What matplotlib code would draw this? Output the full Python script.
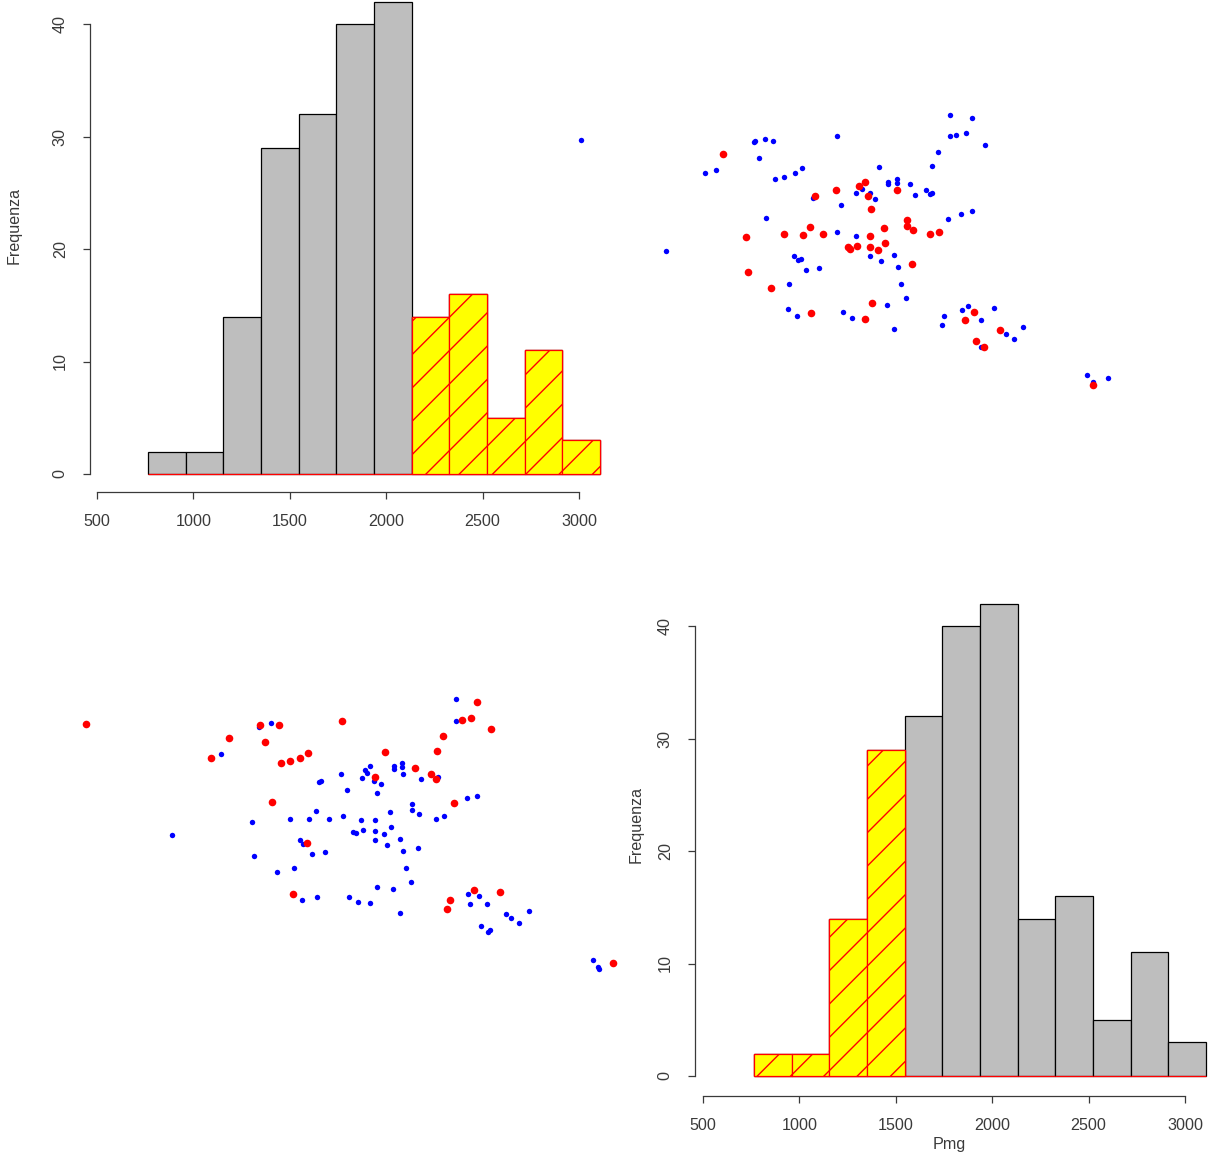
import numpy as np
import matplotlib
matplotlib.use("Agg")
import matplotlib.pyplot as plt

plt.rcParams['font.family'] = ['Liberation Sans', 'DejaVu Sans']
plt.rcParams['hatch.linewidth'] = 0.5

# ---- histogram data (Pmg) ----
bin_edges = [765, 960, 1156, 1351, 1547, 1742, 1937, 2133, 2328, 2524, 2719, 2914, 3110]
counts = [2, 2, 14, 29, 32, 40, 42, 14, 16, 5, 11, 3]
high_cut = 2133   # top-left: bins >= this are highlighted
low_cut = 1547    # bottom-right: bins < this are highlighted

# ---- scatter data (screen units) ----
tr_blue_x = [581, 666, 705, 716, 754, 755, 765, 773, 759, 775, 784, 795, 802, 837, 813, 841, 856, 862, 870, 875,
             766, 837, 856, 794, 798, 801, 806, 819, 789, 870, 881, 788, 797, 843, 852, 887,
             950, 972, 950, 956, 966, 985, 938, 932, 879, 888, 888, 897, 897, 910, 915, 926, 930, 932, 948, 961,
             972, 894, 898, 901, 906, 894, 944, 942, 962, 968, 981, 994, 1023, 1006, 1014, 981, 1087, 1108, 1093]
tr_blue_y = [140, 251, 173, 170, 142, 141, 139, 141, 158, 179, 177, 173, 168, 136, 198, 205, 193, 189, 193, 199,
             218, 232, 236, 256, 260, 259, 270, 268, 284, 256, 261, 309, 316, 312, 318, 305,
             115, 118, 136, 135, 133, 145, 152, 166, 167, 182, 184, 179, 183, 184, 195, 190, 194, 193, 219, 214,
             211, 255, 267, 284, 298, 329, 316, 325, 310, 306, 320, 308, 327, 334, 339, 347, 375, 378, 382]
tr_red_x = [723, 746, 748, 771, 784, 803, 810, 823, 815, 836, 859, 865, 868, 871, 848, 850, 857, 870, 870, 878,
            884, 885, 811, 872, 865, 897, 907, 907, 913, 930, 939, 912, 974, 965, 1000, 976, 984, 1093]
tr_red_y = [154, 237, 272, 288, 234, 235, 227, 234, 196, 190, 186, 182, 196, 209, 247, 249, 246, 236, 247, 250,
            228, 243, 313, 303, 319, 190, 220, 226, 230, 234, 232, 264, 312, 320, 330, 341, 347, 385]

bl_blue_x = [221, 172, 252, 254, 259, 271, 319, 321, 341, 347, 362, 365, 367, 370, 374, 381, 377, 394, 394, 402,
             402, 403, 421, 412, 412, 419, 436, 390, 316, 290, 309, 329, 343, 361, 375, 353, 356, 363, 375, 384,
             391, 300, 303, 312, 325, 375, 387, 400, 403, 418, 294, 277, 406, 411, 377, 393, 302, 317, 349, 358,
             370, 400, 438, 456, 456, 467, 477, 444, 468, 479, 470, 487, 506, 511, 529, 519, 481, 488, 490, 593,
             598, 599]
bl_blue_y = [754, 835, 822, 856, 727, 723, 782, 781, 774, 790, 778, 770, 773, 766, 781, 784, 793, 766, 769, 763,
             767, 774, 779, 804, 810, 814, 819, 812, 811, 819, 819, 819, 816, 820, 820, 832, 833, 830, 831, 834,
             827, 840, 844, 854, 852, 840, 845, 839, 851, 848, 868, 872, 868, 882, 887, 889, 900, 897, 897, 902,
             903, 913, 777, 699, 721, 798, 796, 816, 894, 896, 904, 904, 914, 918, 911, 923, 926, 932, 930, 960,
             967, 969]
bl_red_x = [86, 229, 211, 260, 279, 265, 342, 281, 290, 300, 308, 385, 415, 437, 431, 436, 375, 272, 307, 293,
            477, 462, 471, 491, 443, 454, 474, 500, 450, 447, 613]
bl_red_y = [724, 738, 758, 725, 725, 742, 721, 763, 761, 758, 753, 752, 768, 751, 774, 779, 777, 802, 843, 894,
            702, 720, 718, 729, 736, 803, 890, 892, 900, 909, 963]

W, H = 1208, 1157
fig = plt.figure(figsize=(W / 200, H / 200), dpi=200)
fig.patch.set_facecolor('white')

ink = '#3a3a3a'
fs = 5.8


def px_axes(x0, y0, x1, y1):
    # rectangle given in pixels from top-left corner
    return fig.add_axes([x0 / W, 1 - y1 / H, (x1 - x0) / W, (y1 - y0) / H])


def draw_hist(ax, mark_high, cut, xlim, ylim, ylab_xy, xlabel=None, xlab_xy=None):
    edges = np.array(bin_edges, dtype=float)
    lefts = edges[:-1]
    widths = np.diff(edges)
    c = np.array(counts)
    sel = lefts >= cut if mark_high else lefts < cut
    ax.bar(lefts, c, width=widths, align='edge', color='#bebebe', edgecolor='black',
           linewidth=0.45, clip_on=False, zorder=2)
    ax.bar(lefts, np.where(sel, c, 0), width=widths, align='edge', color='none',
           edgecolor='red', linewidth=0.45, clip_on=False, zorder=3)
    ax.bar(lefts[sel], c[sel], width=widths[sel], align='edge', facecolor='yellow',
           edgecolor='red', hatch='//', linewidth=0.45, clip_on=False, zorder=4)
    ax.set_xlim(*xlim)
    ax.set_ylim(*ylim)
    for s in ['top', 'right']:
        ax.spines[s].set_visible(False)
    for s in ['left', 'bottom']:
        ax.spines[s].set_color(ink)
        ax.spines[s].set_linewidth(0.45)
    ax.spines['left'].set_bounds(0, 40)
    ax.spines['bottom'].set_bounds(500, 3000)
    ax.set_xticks([500, 1000, 1500, 2000, 2500, 3000])
    ax.set_yticks([0, 10, 20, 30, 40])
    ax.tick_params(axis='both', length=2.5, width=0.45, color=ink, labelcolor=ink,
                   labelsize=fs, pad=5.5)
    for lab in ax.get_yticklabels():
        lab.set_rotation(90)
        lab.set_va('center')
    ax.set_facecolor('none')
    ax.set_ylabel('Frequenza', fontsize=fs, color=ink)
    ax.yaxis.set_label_coords(*ylab_xy)
    if xlabel:
        ax.set_xlabel(xlabel, fontsize=fs, color=ink)
        ax.xaxis.set_label_coords(*xlab_xy)


# top-left histogram
ax1 = px_axes(90, 0, 605, 492)
draw_hist(ax1, True, high_cut,
          (500 + (90 - 97) / 0.1928, 500 + (605 - 97) / 0.1928),
          ((474 - 492) / 11.25, 474 / 11.25),
          (-0.132, 0.5407))

# bottom-right histogram
ax4 = px_axes(695, 590, 1208, 1096)
draw_hist(ax4, False, low_cut,
          (500 + (695 - 703) / 0.1928, 500 + (1208 - 703) / 0.1928),
          ((1076 - 1096) / 11.25, (1076 - 590) / 11.25),
          (-0.101, 0.5356), 'Pmg', (0.495, -0.082))

# scatter overlay (both scatter panels)
axs = fig.add_axes([0, 0, 1, 1])
axs.set_xlim(0, W)
axs.set_ylim(H, 0)
axs.axis('off')
axs.set_facecolor('none')
axs.scatter(tr_blue_x, tr_blue_y, s=3.8, c='blue', linewidths=0)
axs.scatter(tr_red_x, tr_red_y, s=7.5, c='red', linewidths=0)
axs.scatter(bl_blue_x, bl_blue_y, s=3.8, c='blue', linewidths=0)
axs.scatter(bl_red_x, bl_red_y, s=7.5, c='red', linewidths=0)

fig.savefig('out.png', dpi=200, facecolor='white')
